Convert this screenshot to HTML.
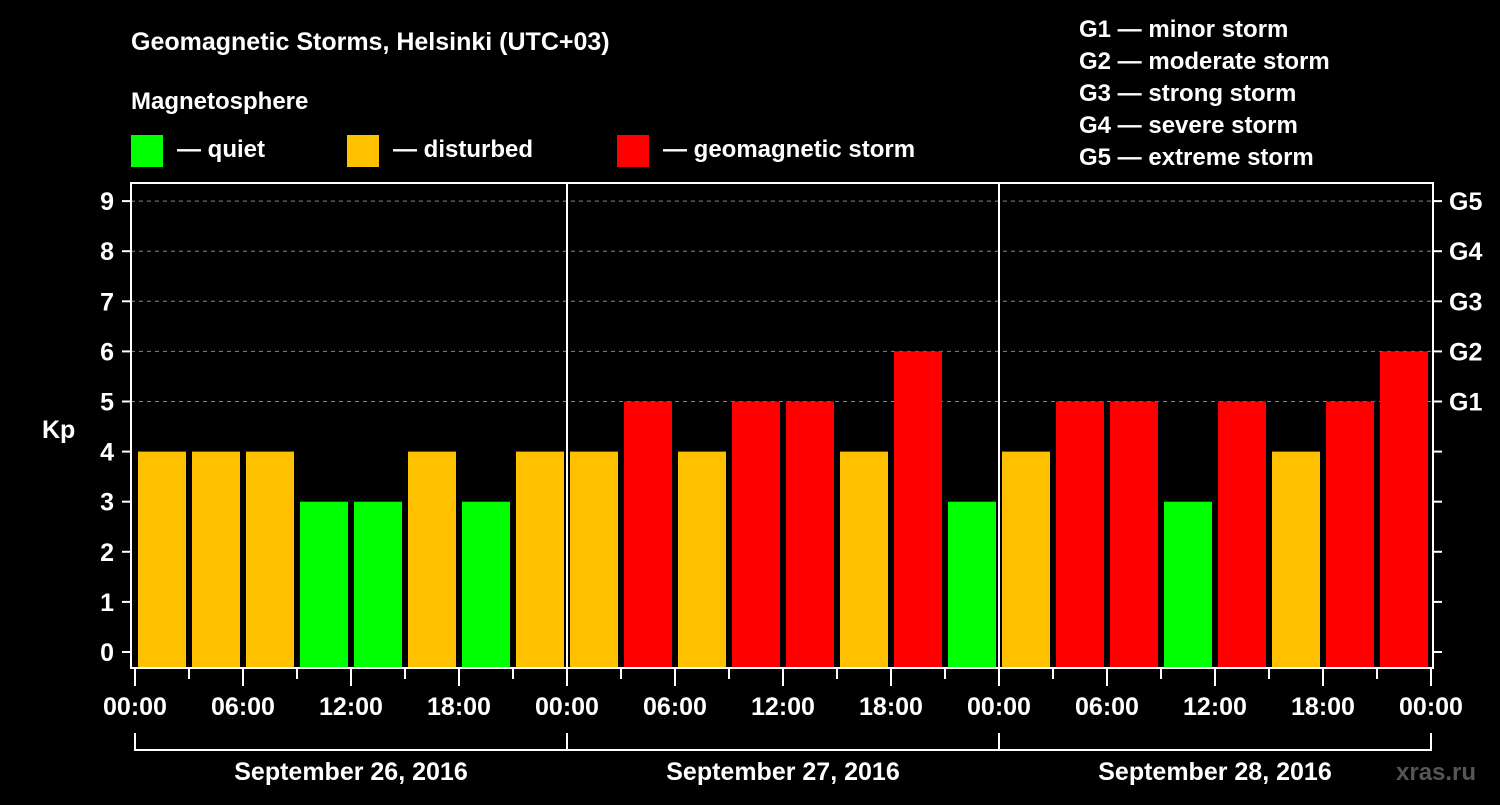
<!DOCTYPE html>
<html><head><meta charset="utf-8"><style>
body{margin:0;background:#000;width:1500px;height:800px;overflow:hidden}
svg text{font-family:"Liberation Sans",Arial,sans-serif;font-weight:bold;fill:#fff}
</style></head><body>
<svg id="c" width="1500" height="800" xmlns="http://www.w3.org/2000/svg">
<rect width="1500" height="800" fill="#000"/>
<text x="131" y="50" font-size="25">Geomagnetic Storms, Helsinki (UTC+03)</text>
<text x="131" y="109" font-size="24">Magnetosphere</text>
<g><rect x="131" y="135" width="32" height="32" fill="#00ff00"/><text x="177" y="157" font-size="24">— quiet</text></g>
<g><rect x="347" y="135" width="32" height="32" fill="#ffc000"/><text x="393" y="157" font-size="24">— disturbed</text></g>
<g><rect x="617" y="135" width="32" height="32" fill="#ff0000"/><text x="663" y="157" font-size="24">— geomagnetic storm</text></g>
<g font-size="24">
<text x="1079" y="37">G1 — minor storm</text>
<text x="1079" y="69">G2 — moderate storm</text>
<text x="1079" y="101">G3 — strong storm</text>
<text x="1079" y="133">G4 — severe storm</text>
<text x="1079" y="165">G5 — extreme storm</text>
</g>
<text x="42" y="438" font-size="25">Kp</text>
<text x="1396" y="780" font-size="24" fill="#555" style="fill:#555">xras.ru</text>
<g id="plot"></g>
</svg>
<script>
const kpValues=[4,4,4,3,3,4,3,4, 4,5,4,5,5,4,6,3, 4,5,5,3,5,4,5,6];
const dayLabels=["September 26, 2016","September 27, 2016","September 28, 2016"];
const yTicks=[0,1,2,3,4,5,6,7,8,9];
const gLabels=["G1","G2","G3","G4","G5"];
const hourLabels=["00:00","06:00","12:00","18:00"];
const NS="http://www.w3.org/2000/svg";
const g=document.getElementById("plot");
const X0=135,DAY=432,L=131,R=1433,T=183,B=668;
const x=h=>X0+h*DAY/24;
const y=v=>652-v*50.1;
function mk(t,a){const e=document.createElementNS(NS,t);for(const k in a)e.setAttribute(k,a[k]);g.appendChild(e);return e;}
// grid
for(let v=5;v<=9;v++){const e=mk("line",{x1:L,x2:R,y1:y(v),y2:y(v),stroke:"#888","stroke-dasharray":"4,4","stroke-width":1});

}
// bars
kpValues.forEach((v,i)=>{const c=v>=5?"#ff0000":v==4?"#ffc000":"#00ff00";
const r=mk("rect",{x:x(i*3)+3,y:y(v),width:48,height:B-y(v),fill:c});

});
// day separators
for(let d=1;d<3;d++){const e=mk("line",{x1:x(d*24),x2:x(d*24),y1:T,y2:B,stroke:"#fff","stroke-width":2});

}
// frame
const f=mk("rect",{x:L,y:T,width:R-L,height:B-T,fill:"none",stroke:"#fff","stroke-width":2});


// y ticks
yTicks.forEach(v=>{mk("line",{x1:122,x2:L,y1:y(v),y2:y(v),stroke:"#fff","stroke-width":2});
mk("line",{x1:R,x2:1442,y1:y(v),y2:y(v),stroke:"#fff","stroke-width":2});
const t=mk("text",{x:114,y:y(v)+9,"font-size":25,"text-anchor":"end"});t.textContent=v;

});
gLabels.forEach((s,i)=>{const t=mk("text",{x:1449,y:y(i+5)+9,"font-size":25});t.textContent=s;

});
// x ticks
for(let h=0;h<=72;h+=3){mk("line",{x1:x(h),x2:x(h),y1:B,y2:h%6==0?686:679,stroke:"#fff","stroke-width":2});}
for(let h=0;h<=72;h+=6){const t=mk("text",{x:x(h),y:715,"font-size":25,"text-anchor":"middle"});t.textContent=hourLabels[(h/6)%4];

}
// day brackets
mk("polyline",{points:`${x(0)},733 ${x(0)},750 ${x(72)},750 ${x(72)},733`,fill:"none",stroke:"#fff","stroke-width":2});
for(let d=1;d<3;d++)mk("line",{x1:x(d*24),x2:x(d*24),y1:733,y2:750,stroke:"#fff","stroke-width":2});
dayLabels.forEach((s,d)=>{const t=mk("text",{x:x(d*24+12),y:780,"font-size":25,"text-anchor":"middle"});t.textContent=s;

});
</script>
</body></html>
